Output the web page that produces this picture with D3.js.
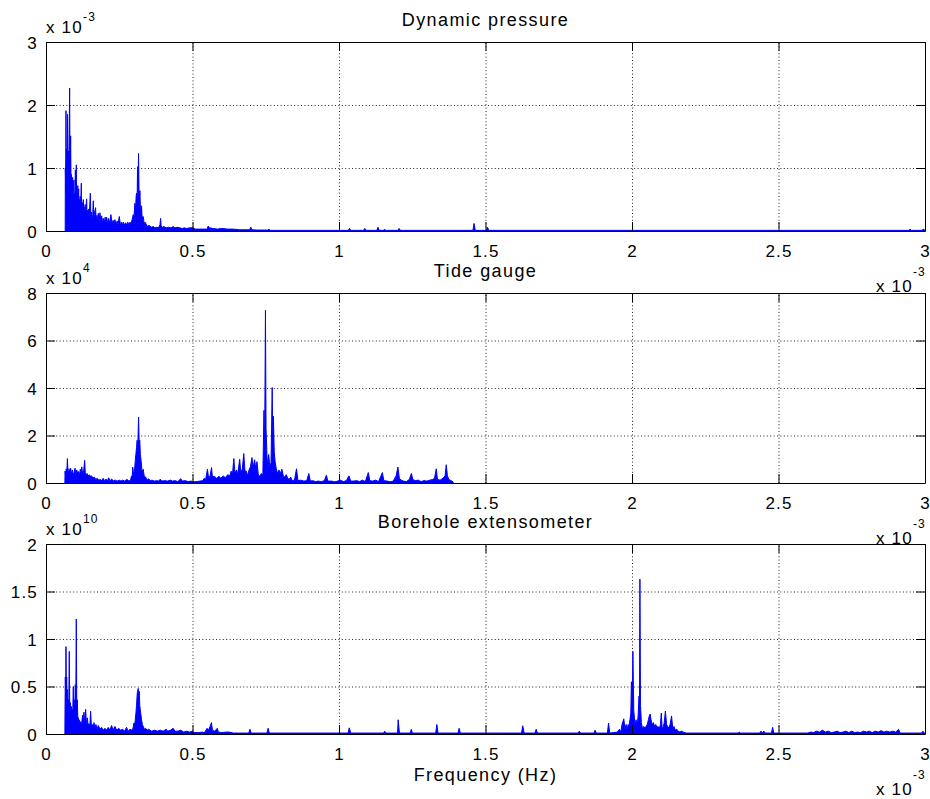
<!DOCTYPE html>
<html><head><meta charset="utf-8">
<script src="https://cdn.jsdelivr.net/npm/d3@7"></script>
<style>
body{margin:0;background:#fff}
text{font-family:"Liberation Sans",Arial,Helvetica,sans-serif;fill:#000}
</style>
</head><body>
<svg id="chart" width="930" height="799"></svg>
<script>
// ---------- data (frequency in 1e-3 Hz, amplitude in panel units) ----------
const xTicks = [0, 0.5, 1, 1.5, 2, 2.5, 3];
const titles = ["Dynamic pressure", "Tide gauge", "Borehole extensometer"];
const yTicksDynamic = [0, 1, 2, 3];
const yTicksTide = [0, 2, 4, 6, 8];
const yTicksBorehole = [0, 0.5, 1, 1.5, 2];
const yExponents = ["-3", "4", "10"];
const xExponent = "-3";
const xLabel = "Frequency (Hz)";

const dynamicPressure = [
[0.0655,0],[0.066,1.0],[0.0672,0.6],[0.0682,1.91],[0.069,1.0],[0.0705,1.3],[0.0718,0.8],[0.0735,1.85],[0.0745,1.0],[0.0762,1.27],[0.0775,0.85],[0.0807,2.27],[0.0818,1.1],[0.0828,0.85],[0.0841,1.51],[0.0852,0.85],[0.0865,0.9],[0.0875,0.78],[0.0888,0.82],[0.09,0.6],[0.0909,0.85],[0.092,0.55],[0.0935,0.7],[0.0955,0.81],[0.0965,0.45],[0.0978,0.6],[0.0989,0.5],[0.1003,0.97],[0.1012,0.5],[0.1023,0.6],[0.1035,1.05],[0.1045,0.45],[0.1057,0.55],[0.107,0.38],[0.1085,0.72],[0.1095,0.4],[0.1115,0.67],[0.1125,0.35],[0.1137,0.5],[0.115,0.38],[0.1165,0.55],[0.1175,0.32],[0.119,0.48],[0.1205,0.76],[0.1215,0.35],[0.124,0.45],[0.1255,0.3],[0.1273,0.5],[0.1285,0.3],[0.130,0.38],[0.1315,0.27],[0.1335,0.42],[0.135,0.25],[0.1387,0.51],[0.140,0.25],[0.142,0.33],[0.1444,0.22],[0.146,0.35],[0.1475,0.2],[0.1512,0.6],[0.153,0.22],[0.155,0.3],[0.157,0.18],[0.1595,0.26],[0.1614,0.48],[0.163,0.2],[0.166,0.3],[0.1693,0.37],[0.171,0.17],[0.174,0.25],[0.1765,0.16],[0.1784,0.28],[0.181,0.15],[0.1841,0.29],[0.187,0.16],[0.190,0.24],[0.193,0.14],[0.1955,0.2],[0.199,0.13],[0.202,0.22],[0.2045,0.12],[0.2068,0.22],[0.21,0.12],[0.213,0.2],[0.216,0.11],[0.2216,0.26],[0.225,0.12],[0.229,0.17],[0.232,0.1],[0.2352,0.18],[0.239,0.1],[0.243,0.16],[0.246,0.1],[0.25,0.23],[0.254,0.1],[0.258,0.14],[0.261,0.09],[0.2637,0.14],[0.267,0.09],[0.271,0.13],[0.275,0.1],[0.279,0.14],[0.283,0.1],[0.2864,0.14],[0.290,0.12],[0.294,0.18],[0.2977,0.26],[0.300,0.2],[0.3034,0.44],[0.3055,0.3],[0.3075,0.55],[0.3091,0.6],[0.311,0.5],[0.3125,1.02],[0.3142,0.7],[0.3159,1.23],[0.3175,0.65],[0.319,0.5],[0.3205,0.64],[0.3225,0.3],[0.3245,0.35],[0.3261,0.4],[0.328,0.22],[0.3318,0.23],[0.335,0.12],[0.338,0.14],[0.3432,0.1],[0.347,0.07],[0.351,0.09],[0.3546,0.08],[0.359,0.06],[0.366,0.07],[0.372,0.05],[0.378,0.06],[0.384,0.05],[0.389,0.1],[0.391,0.2],[0.393,0.08],[0.397,0.06],[0.402,0.07],[0.41,0.05],[0.418,0.06],[0.426,0.05],[0.434,0.07],[0.44,0.05],[0.448,0.06],[0.4568,0.05],[0.465,0.04],[0.472,0.05],[0.48,0.04],[0.49,0.05],[0.5,0.05],[0.51,0.03],[0.525,0.03],[0.54,0.03],[0.55,0.03],[0.5535,0.08],[0.557,0.05],[0.5705,0.04],[0.585,0.03],[0.60,0.04],[0.62,0.03],[0.6387,0.03],[0.66,0.02],[0.68,0.02],[0.695,0.02],[0.699,0.06],[0.703,0.02],[0.72,0.015],[0.74,0.015],[0.757,0.015],[0.761,0.03],[0.765,0.01],[0.85,0.01],[1.032,0.01],[1.036,0.04],[1.04,0.01],[1.084,0.01],[1.088,0.04],[1.092,0.01],[1.129,0.01],[1.133,0.06],[1.137,0.01],[1.151,0.01],[1.155,0.025],[1.16,0.01],[1.201,0.01],[1.205,0.04],[1.21,0.01],[1.457,0.01],[1.461,0.12],[1.465,0.01],[1.503,0.01],[1.507,0.06],[1.511,0.01],[2.945,0.01],[2.949,0.03],[2.953,0.01],[2.99,0.01],[2.994,0.03],[3.0,0.01]
];

const tideGauge = [
[0.0645,0],[0.065,0.5],[0.067,0.3],[0.069,0.6],[0.071,0.4],[0.073,1.03],[0.075,0.5],[0.077,0.45],[0.079,0.6],[0.081,0.35],[0.084,0.62],[0.087,0.4],[0.09,0.55],[0.093,0.35],[0.096,0.45],[0.099,0.62],[0.102,0.35],[0.105,0.55],[0.108,0.4],[0.111,0.48],[0.114,0.3],[0.117,0.58],[0.120,0.4],[0.122,0.68],[0.125,0.4],[0.128,0.45],[0.132,0.95],[0.134,0.45],[0.137,0.35],[0.14,0.4],[0.144,0.3],[0.148,0.35],[0.152,0.28],[0.156,0.3],[0.16,0.2],[0.165,0.25],[0.17,0.15],[0.175,0.2],[0.18,0.12],[0.185,0.15],[0.19,0.1],[0.195,0.2],[0.2,0.1],[0.205,0.16],[0.21,0.1],[0.214,0.22],[0.218,0.1],[0.224,0.16],[0.23,0.1],[0.237,0.12],[0.243,0.08],[0.25,0.12],[0.256,0.08],[0.262,0.12],[0.268,0.08],[0.276,0.15],[0.282,0.1],[0.288,0.1],[0.292,0.3],[0.294,0.2],[0.296,0.67],[0.299,0.4],[0.302,0.5],[0.305,1.0],[0.307,1.24],[0.309,1.5],[0.311,1.8],[0.313,1.4],[0.316,2.78],[0.318,1.6],[0.32,1.8],[0.322,1.2],[0.325,0.9],[0.327,0.58],[0.329,0.45],[0.332,0.58],[0.335,0.3],[0.34,0.25],[0.345,0.12],[0.35,0.18],[0.356,0.1],[0.362,0.12],[0.37,0.08],[0.378,0.1],[0.384,0.08],[0.39,0.16],[0.395,0.08],[0.405,0.1],[0.415,0.08],[0.425,0.12],[0.432,0.08],[0.44,0.1],[0.45,0.06],[0.46,0.18],[0.465,0.08],[0.475,0.1],[0.485,0.06],[0.495,0.08],[0.505,0.05],[0.515,0.06],[0.525,0.08],[0.535,0.1],[0.54,0.2],[0.545,0.15],[0.551,0.58],[0.555,0.2],[0.56,0.3],[0.565,0.65],[0.568,0.25],[0.575,0.28],[0.582,0.2],[0.59,0.28],[0.597,0.2],[0.605,0.3],[0.612,0.22],[0.62,0.35],[0.627,0.3],[0.632,0.5],[0.636,0.3],[0.641,1.03],[0.645,0.4],[0.65,0.55],[0.654,0.35],[0.661,1.0],[0.665,0.4],[0.67,0.6],[0.675,1.24],[0.679,0.5],[0.684,0.5],[0.688,0.3],[0.693,0.55],[0.698,0.7],[0.703,1.07],[0.707,0.65],[0.712,0.98],[0.716,0.6],[0.72,0.9],[0.725,0.3],[0.73,0.3],[0.735,0.4],[0.74,0.3],[0.744,3.06],[0.746,1.0],[0.749,7.27],[0.751,2.29],[0.754,1.2],[0.757,0.6],[0.76,1.2],[0.764,0.7],[0.768,0.85],[0.772,4.02],[0.774,1.8],[0.776,2.81],[0.779,1.3],[0.782,0.9],[0.786,0.6],[0.79,0.4],[0.795,0.55],[0.8,0.4],[0.805,0.58],[0.81,0.3],[0.815,0.25],[0.82,0.35],[0.825,0.2],[0.83,0.15],[0.835,0.25],[0.84,0.1],[0.848,0.12],[0.855,0.6],[0.86,0.1],[0.87,0.12],[0.88,0.08],[0.89,0.1],[0.897,0.4],[0.902,0.08],[0.91,0.1],[0.92,0.06],[0.93,0.08],[0.94,0.06],[0.95,0.1],[0.957,0.33],[0.962,0.08],[0.975,0.08],[0.985,0.05],[0.995,0.08],[1.005,0.12],[1.015,0.06],[1.025,0.1],[1.034,0.3],[1.04,0.08],[1.05,0.08],[1.06,0.1],[1.07,0.06],[1.08,0.12],[1.09,0.06],[1.1,0.44],[1.105,0.1],[1.115,0.08],[1.125,0.12],[1.135,0.06],[1.148,0.44],[1.153,0.1],[1.165,0.08],[1.175,0.05],[1.185,0.08],[1.195,0.3],[1.201,0.67],[1.206,0.2],[1.212,0.12],[1.22,0.08],[1.23,0.06],[1.24,0.15],[1.247,0.4],[1.252,0.15],[1.26,0.1],[1.27,0.12],[1.28,0.06],[1.29,0.1],[1.3,0.08],[1.31,0.12],[1.32,0.15],[1.326,0.2],[1.332,0.6],[1.336,0.15],[1.345,0.12],[1.355,0.2],[1.362,0.3],[1.366,0.77],[1.37,0.3],[1.375,0.15],[1.382,0.1],[1.389,0.05],[1.39,0]
];

const boreholeExtensometer = [
[0.0645,0],[0.0648,0.22],[0.066,0.6],[0.0672,0.3],[0.0682,0.92],[0.0695,0.35],[0.0705,0.6],[0.0715,0.3],[0.0727,0.47],[0.074,0.25],[0.0761,0.36],[0.0775,0.22],[0.0795,0.87],[0.081,0.3],[0.083,0.33],[0.0845,0.2],[0.0864,0.29],[0.088,0.2],[0.0898,0.26],[0.091,0.18],[0.0932,0.5],[0.095,0.22],[0.0966,0.36],[0.098,0.2],[0.1,0.52],[0.1015,0.25],[0.1034,1.21],[0.105,0.3],[0.1068,0.36],[0.1085,0.18],[0.1102,0.17],[0.112,0.12],[0.1137,0.15],[0.116,0.1],[0.1182,0.13],[0.121,0.09],[0.125,0.2],[0.127,0.1],[0.1296,0.23],[0.132,0.1],[0.1353,0.26],[0.138,0.1],[0.141,0.17],[0.144,0.08],[0.1466,0.11],[0.1495,0.07],[0.1523,0.24],[0.155,0.07],[0.158,0.1],[0.161,0.06],[0.1637,0.12],[0.167,0.06],[0.1705,0.1],[0.174,0.05],[0.1785,0.09],[0.184,0.05],[0.1898,0.07],[0.195,0.04],[0.2012,0.06],[0.207,0.04],[0.2125,0.07],[0.218,0.04],[0.2239,0.09],[0.229,0.04],[0.2353,0.08],[0.241,0.04],[0.248,0.06],[0.255,0.04],[0.262,0.05],[0.268,0.03],[0.275,0.07],[0.28,0.03],[0.287,0.05],[0.293,0.04],[0.297,0.06],[0.3,0.115],[0.303,0.1],[0.3069,0.22],[0.309,0.3],[0.3114,0.43],[0.3148,0.48],[0.3165,0.35],[0.3182,0.45],[0.32,0.3],[0.3216,0.26],[0.324,0.2],[0.3262,0.15],[0.329,0.1],[0.3319,0.08],[0.336,0.05],[0.34,0.06],[0.345,0.04],[0.35,0.05],[0.36,0.03],[0.37,0.04],[0.38,0.03],[0.39,0.04],[0.40,0.03],[0.41,0.05],[0.415,0.03],[0.425,0.04],[0.434,0.06],[0.44,0.03],[0.45,0.03],[0.46,0.04],[0.47,0.02],[0.48,0.03],[0.49,0.02],[0.5,0.03],[0.505,0.015],[0.52,0.015],[0.535,0.02],[0.54,0.01],[0.55,0.06],[0.553,0.03],[0.56,0.08],[0.5648,0.12],[0.568,0.04],[0.575,0.03],[0.585,0.06],[0.588,0.02],[0.6,0.015],[0.615,0.02],[0.625,0.02],[0.64,0.01],[0.66,0.01],[0.692,0.01],[0.696,0.05],[0.70,0.01],[0.73,0.01],[0.754,0.01],[0.758,0.06],[0.762,0.01],[0.9,0.01],[1.031,0.01],[1.035,0.065],[1.04,0.01],[1.152,0.01],[1.156,0.03],[1.16,0.01],[1.198,0.01],[1.2,0.02],[1.202,0.15],[1.206,0.02],[1.21,0.01],[1.243,0.01],[1.247,0.05],[1.25,0.01],[1.330,0.01],[1.334,0.1],[1.338,0.01],[1.406,0.01],[1.41,0.06],[1.414,0.01],[1.5,0.01],[1.623,0.01],[1.627,0.087],[1.632,0.01],[1.669,0.01],[1.673,0.05],[1.677,0.01],[1.75,0.01],[1.816,0.01],[1.82,0.03],[1.824,0.01],[1.870,0.01],[1.874,0.04],[1.878,0.01],[1.916,0.01],[1.92,0.115],[1.924,0.01],[1.95,0.02],[1.957,0.05],[1.962,0.02],[1.966,0.1],[1.972,0.16],[1.976,0.05],[1.98,0.1],[1.983,0.04],[1.987,0.1],[1.99,0.08],[1.993,0.15],[1.996,0.22],[1.998,0.55],[2.001,0.3],[2.003,0.87],[2.006,0.25],[2.01,0.1],[2.014,0.15],[2.018,0.08],[2.021,0.2],[2.024,0.4],[2.0255,0.3],[2.027,1.63],[2.029,0.3],[2.032,0.12],[2.036,0.05],[2.04,0.08],[2.044,0.06],[2.048,0.08],[2.052,0.1],[2.056,0.15],[2.059,0.19],[2.062,0.21],[2.065,0.15],[2.069,0.1],[2.073,0.12],[2.077,0.08],[2.081,0.1],[2.085,0.07],[2.089,0.08],[2.093,0.05],[2.097,0.1],[2.1,0.22],[2.103,0.05],[2.107,0.08],[2.11,0.12],[2.114,0.24],[2.118,0.1],[2.122,0.08],[2.126,0.06],[2.13,0.1],[2.135,0.19],[2.139,0.06],[2.143,0.08],[2.148,0.04],[2.153,0.05],[2.16,0.02],[2.168,0.03],[2.175,0.02],[2.185,0.01],[2.362,0.01],[2.366,0.02],[2.37,0.01],[2.436,0.01],[2.44,0.03],[2.445,0.01],[2.45,0.03],[2.455,0.01],[2.476,0.01],[2.48,0.07],[2.484,0.01],[2.6,0.01],[2.61,0.02],[2.62,0.015],[2.63,0.03],[2.64,0.02],[2.65,0.04],[2.66,0.02],[2.67,0.03],[2.68,0.015],[2.69,0.02],[2.7,0.03],[2.71,0.015],[2.72,0.02],[2.73,0.03],[2.74,0.015],[2.75,0.03],[2.76,0.015],[2.77,0.02],[2.78,0.015],[2.79,0.03],[2.8,0.02],[2.81,0.03],[2.82,0.015],[2.83,0.03],[2.84,0.02],[2.85,0.035],[2.86,0.02],[2.87,0.03],[2.88,0.02],[2.89,0.03],[2.9,0.02],[2.91,0.05],[2.915,0.01],[2.989,0.01],[2.993,0.03],[2.997,0.01],[3.0,0.01]
];

// ---------- layout ----------
const W = 930, H = 799;
const left = 46, right = 925;
const FONT = 17, LS = "1.2px";
const TFONT = 18, TLS = "1.4px";
const panels = [
  {data: dynamicPressure, yTicks: yTicksDynamic, title: titles[0], yExp: yExponents[0], top: 42, bottom: 231},
  {data: tideGauge, yTicks: yTicksTide, title: titles[1], yExp: yExponents[1], top: 293, bottom: 483},
  {data: boreholeExtensometer, yTicks: yTicksBorehole, title: titles[2], yExp: yExponents[2], top: 544, bottom: 734}
];

const svg = d3.select("#chart");
svg.append("rect").attr("width", W).attr("height", H).attr("fill", "#fff");

const x = d3.scaleLinear().domain([xTicks[0], xTicks[xTicks.length - 1]]).range([left, right]);
const fmt = d => String(d);

panels.forEach((p, i) => {
  const y = d3.scaleLinear().domain([p.yTicks[0], p.yTicks[p.yTicks.length - 1]]).range([p.bottom, p.top]);
  const g = svg.append("g");
  const h = p.bottom - p.top, w = right - left;

  // grid
  const gx = g.append("g").attr("transform", `translate(0,${p.bottom})`)
    .call(d3.axisBottom(x).tickValues(xTicks.slice(1, -1)).tickSize(-h).tickFormat(""));
  const gy = g.append("g").attr("transform", `translate(${left},0)`)
    .call(d3.axisLeft(y).tickValues(p.yTicks.slice(1, -1)).tickSize(-w).tickFormat(""));
  [gx, gy].forEach(a => {
    a.select(".domain").remove();
    a.selectAll("line").attr("stroke", "#000").attr("stroke-width", 1).attr("stroke-dasharray", "1,2.4").attr("stroke-opacity", 0.85);
  });

  // data
  const area = d3.area().x(d => x(d[0])).y0(y(0)).y1(d => y(d[1]));
  const line = d3.line().x(d => x(d[0])).y(d => y(d[1]));
  g.append("path").datum(p.data).attr("d", area).attr("fill", "#0000ff");
  g.append("path").datum(p.data).attr("d", line).attr("fill", "none").attr("stroke", "#0000ff").attr("stroke-width", 1);

  // axes (box with inward ticks)
  const axB = g.append("g").attr("transform", `translate(0,${p.bottom})`)
    .call(d3.axisBottom(x).tickValues(xTicks).tickSizeInner(-9).tickSizeOuter(0).tickPadding(14).tickFormat(fmt));
  const axT = g.append("g").attr("transform", `translate(0,${p.top})`)
    .call(d3.axisTop(x).tickValues(xTicks).tickSizeInner(-9).tickSizeOuter(0).tickFormat(""));
  const axL = g.append("g").attr("transform", `translate(${left},0)`)
    .call(d3.axisLeft(y).tickValues(p.yTicks).tickSizeInner(-9).tickSizeOuter(0).tickPadding(8).tickFormat(fmt));
  const axR = g.append("g").attr("transform", `translate(${right},0)`)
    .call(d3.axisRight(y).tickValues(p.yTicks).tickSizeInner(-9).tickSizeOuter(0).tickFormat(""));
  [axB, axT, axL, axR].forEach(a => {
    a.attr("font-size", null).attr("font-family", null);
    a.select(".domain").attr("stroke", "#000").attr("stroke-width", 1);
    a.selectAll(".tick line").attr("stroke", "#000").attr("stroke-width", 1);
    a.selectAll(".tick text").style("font-size", FONT + "px").style("letter-spacing", LS).attr("fill", "#000");
  });
  axL.selectAll(".tick text").attr("dy", "0.36em");

  // title
  g.append("text").attr("x", (left + right) / 2).attr("y", p.top - 16)
    .attr("text-anchor", "middle").style("font-size", TFONT + "px").style("letter-spacing", TLS).text(p.title);

  // y exponent
  const ye = g.append("text").attr("x", left).attr("y", p.top - 9)
    .style("font-size", FONT + "px").style("letter-spacing", LS).text("x 10");
  ye.append("tspan").attr("dy", -12).style("font-size", "12px").text(p.yExp);

  // x exponent
  const xe = g.append("text").attr("x", right + 1).attr("y", p.bottom + 61).attr("text-anchor", "end")
    .style("font-size", FONT + "px").style("letter-spacing", LS).text("x 10");
  xe.append("tspan").attr("dy", -16).style("font-size", "12px").text(xExponent);

  if (i === panels.length - 1) {
    g.append("text").attr("x", (left + right) / 2).attr("y", p.bottom + 47)
      .attr("text-anchor", "middle").style("font-size", TFONT + "px").style("letter-spacing", TLS).text(xLabel);
  }
});
</script>
</body></html>
